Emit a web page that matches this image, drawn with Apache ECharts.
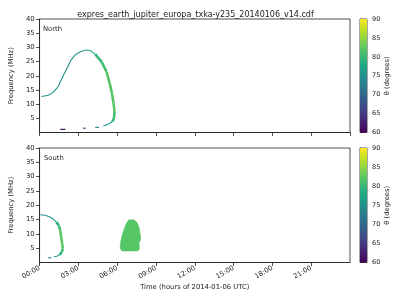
<!DOCTYPE html>
<html>
<head>
<meta charset="utf-8">
<script src="https://cdn.jsdelivr.net/npm/echarts@6/dist/echarts.min.js"></script>
<style>html,body{margin:0;padding:0;background:#fff}#chart{width:400px;height:300px}</style>
</head>
<body>
<div id="chart"></div>
<script>
// ---- data (hours, MHz, theta degrees) ----
const titleText = 'expres_earth_jupiter_europa_txka-y235_20140106_v14.cdf';
const xTickLabels = ['00:00','03:00','06:00','09:00','12:00','15:00','18:00','21:00'];
const yTickValues = [5,10,15,20,25,30,35,40];
const cbTickValues = [60,65,70,75,80,85,90];

// North hemisphere arc: [time (h), frequency (MHz), theta (deg)]
const northCurve = [
  [0.15,12.7,74],[0.38,12.85,75],[0.68,13.1,75],[1.05,14.15,75],[1.43,16.1,75],
  [1.67,18.5,75],[1.93,20.85,75],[2.18,23.2,75],[2.42,25.5,75],[2.8,27.5,75],
  [3.17,28.45,76],[3.55,29.05,76],[3.92,28.9,77],[4.3,27.6,78],[4.8,24.9,80],
  [5.18,21.4,81],[5.42,17.3,82],[5.6,13.8,82],[5.72,10.3,82],[5.8,7.3,82],
  [5.75,5.0,81],[5.62,3.8,80],[5.3,2.9,77],[4.93,2.3,75]
];
// short low-frequency fragments: [start time, frequency, theta, end time]
const northBits = [[4.3,1.83,74,4.6],[3.37,1.5,66,3.57],[1.6,1.1,62,2.0]];

const southCurve = [
  [0.05,16.7,72],[0.43,16.5,75],[0.8,15.9,75],[1.1,15.0,76],[1.3,14.1,77],
  [1.48,13.0,79],[1.6,11.2,81],[1.67,8.9,82],[1.75,6.6,82],[1.8,4.8,82],
  [1.72,3.6,81],[1.55,2.7,79],[1.3,2.1,76],[1.1,2.0,75]
];
const southBits = [[0.68,1.65,73,0.92]];
// South emission patch outline: [time, frequency]
const southBlob = [
  [6.9,14.9],[7.28,14.9],[7.54,14.0],[7.69,12.3],[7.76,10.5],[7.82,8.8],
  [7.8,7.7],[7.69,7.0],[7.73,4.6],[7.58,4.0],[6.38,4.0],[6.23,4.9],
  [6.26,7.0],[6.38,9.5],[6.56,11.9],[6.71,13.7]
];
const southBlobTheta = 82;

const viridis = ['#440154','#482475','#414487','#355f8d','#2a788e','#21918c','#22a884','#44bf70','#7ad151','#bddf26','#fde725'];

// ---- chart ----
const FONT = 'DejaVu Sans';
const TXT = '#222';
const chart = echarts.init(document.getElementById('chart'), null, {renderer:'canvas'});

function curveRender(curve){
  return function(params, api){
    const i = params.dataIndex;
    if (i === 0) return null;
    const p0 = api.coord([curve[i-1][0], curve[i-1][1]]);
    const p1 = api.coord([api.value(0), api.value(1)]);
    const th = api.value(2);
    return {type:'line', shape:{x1:p0[0],y1:p0[1],x2:p1[0],y2:p1[1]},
      style:{stroke: api.visual('color'), lineWidth: th >= 79 ? 2.6 : 1.1, lineCap:'butt'}};
  };
}
function bitsRender(params, api){
  const a = api.coord([api.value(0), api.value(1)]);
  const b = api.coord([api.value(3), api.value(1)]);
  return {type:'line', shape:{x1:a[0],y1:a[1],x2:b[0],y2:b[1]},
    style:{stroke: api.visual('color'), lineWidth:1.2}};
}
function blobRender(params, api){
  if (params.dataIndex !== 0) return null;
  const pts = southBlob.map(p => api.coord(p));
  return {type:'polygon', shape:{points: pts}, style:{fill: api.visual('color'), stroke: api.visual('color'), lineWidth:0.5}};
}
function cbRender(params, api){
  if (params.dataIndex !== 0) return null;
  const tl = api.coord([0, 90]);
  const br = api.coord([1, 60]);
  const stops = viridis.map((c, k) => ({offset: 1 - k/(viridis.length-1), color: c})).reverse();
  return {type:'rect', shape:{x:tl[0], y:tl[1], width:br[0]-tl[0], height:br[1]-tl[1]},
    style:{fill:{type:'linear', x:0, y:0, x2:0, y2:1, colorStops: stops}}};
}

const panels = [{top:19, height:113.5}, {top:148, height:114.5}];
const grid = [
  {left:31, top:panels[0].top, width:319, height:panels[0].height, show:true, borderColor:'#222', borderWidth:0.8},
  {left:31, top:panels[1].top, width:319, height:panels[1].height, show:true, borderColor:'#222', borderWidth:0.8},
  {left:360, top:panels[0].top, width:7, height:panels[0].height, show:true, borderColor:'#222', borderWidth:0.8},
  {left:360, top:panels[1].top, width:7, height:panels[1].height, show:true, borderColor:'#222', borderWidth:0.8}
];
const lbl = {fontFamily:FONT, fontSize:6.8, color:TXT};
function mainX(gi, showLabels){
  return {gridIndex:gi, type:'value', min:0, max:24, interval:3,
    axisLine:{show:true, onZero:false, lineStyle:{color:'#222', width:0.8}},
    axisTick:{show:true, length:3.5, lineStyle:{color:'#222', width:0.8}},
    splitLine:{show:false},
    axisLabel:{show:showLabels, rotate:30, margin:5, showMaxLabel:false, ...lbl,
      formatter: v => xTickLabels[Math.round(v/3)] || ''},
    name: showLabels ? 'Time (hours of 2014-01-06 UTC)' : '',
    nameLocation:'middle', nameGap:21, nameTextStyle:{...lbl}};
}
function mainY(gi){
  return {gridIndex:gi, type:'value', min:0, max:40, interval:5,
    axisLine:{show:true, onZero:false, lineStyle:{color:'#222', width:0.8}},
    axisTick:{show:true, length:3.5, lineStyle:{color:'#222', width:0.8}},
    splitLine:{show:false},
    axisLabel:{margin:5, showMinLabel:false, ...lbl,
      formatter: v => yTickValues.indexOf(v) >= 0 ? String(v) : ''},
    name:'Frequency (MHz)', nameLocation:'middle', nameGap:17, nameRotate:90, nameTextStyle:{...lbl}};
}
function cbX(gi){ return {gridIndex:gi, type:'value', min:0, max:1, show:false}; }
function cbY(gi){
  return {gridIndex:gi, type:'value', position:'right', min:60, max:90, interval:5,
    axisLine:{show:true, lineStyle:{color:'#222', width:0.8}},
    axisTick:{show:true, length:3.5, lineStyle:{color:'#222', width:0.8}},
    splitLine:{show:false},
    axisLabel:{margin:5, ...lbl, fontSize:6.5,
      formatter: v => cbTickValues.indexOf(v) >= 0 ? String(v) : ''},
    name:'θ (degrees)', nameLocation:'middle', nameGap:17, nameRotate:90, nameTextStyle:{...lbl}};
}

const option = {
  animation:false,
  backgroundColor:'#fff',
  title:{text:titleText, left:190.5, textAlign:'center', top:6,
    textStyle:{fontFamily:FONT, fontSize:8, fontWeight:'normal', color:TXT}},
  graphic:[
    {type:'text', left:43, top:26, style:{text:'North', font:'6.8px "DejaVu Sans"', fill:TXT}},
    {type:'text', left:44, top:155, style:{text:'South', font:'6.8px "DejaVu Sans"', fill:TXT}}
  ],
  grid: grid,
  xAxis:[mainX(0,false), mainX(1,true), cbX(2), cbX(3)],
  yAxis:[mainY(0), mainY(1), cbY(2), cbY(3)],
  visualMap:[{show:false, type:'continuous', min:60, max:90, dimension:2,
    seriesIndex:[0,1,2,3,4], inRange:{color: viridis}}],
  series:[
    {type:'custom', xAxisIndex:0, yAxisIndex:0, renderItem: curveRender(northCurve), data: northCurve, encode:{x:0,y:1}},
    {type:'custom', xAxisIndex:0, yAxisIndex:0, renderItem: bitsRender, data: northBits, encode:{x:[0,3],y:1}},
    {type:'custom', xAxisIndex:1, yAxisIndex:1, renderItem: curveRender(southCurve), data: southCurve, encode:{x:0,y:1}},
    {type:'custom', xAxisIndex:1, yAxisIndex:1, renderItem: bitsRender, data: southBits, encode:{x:[0,3],y:1}},
    {type:'custom', xAxisIndex:1, yAxisIndex:1, renderItem: blobRender,
      data: southBlob.map(p => [p[0], p[1], southBlobTheta]), encode:{x:0,y:1}},
    {type:'custom', xAxisIndex:2, yAxisIndex:2, renderItem: cbRender, data:[[0,60],[1,90]], encode:{x:0,y:1}},
    {type:'custom', xAxisIndex:3, yAxisIndex:3, renderItem: cbRender, data:[[0,60],[1,90]], encode:{x:0,y:1}}
  ]
};
chart.setOption(option);
</script>
</body>
</html>
